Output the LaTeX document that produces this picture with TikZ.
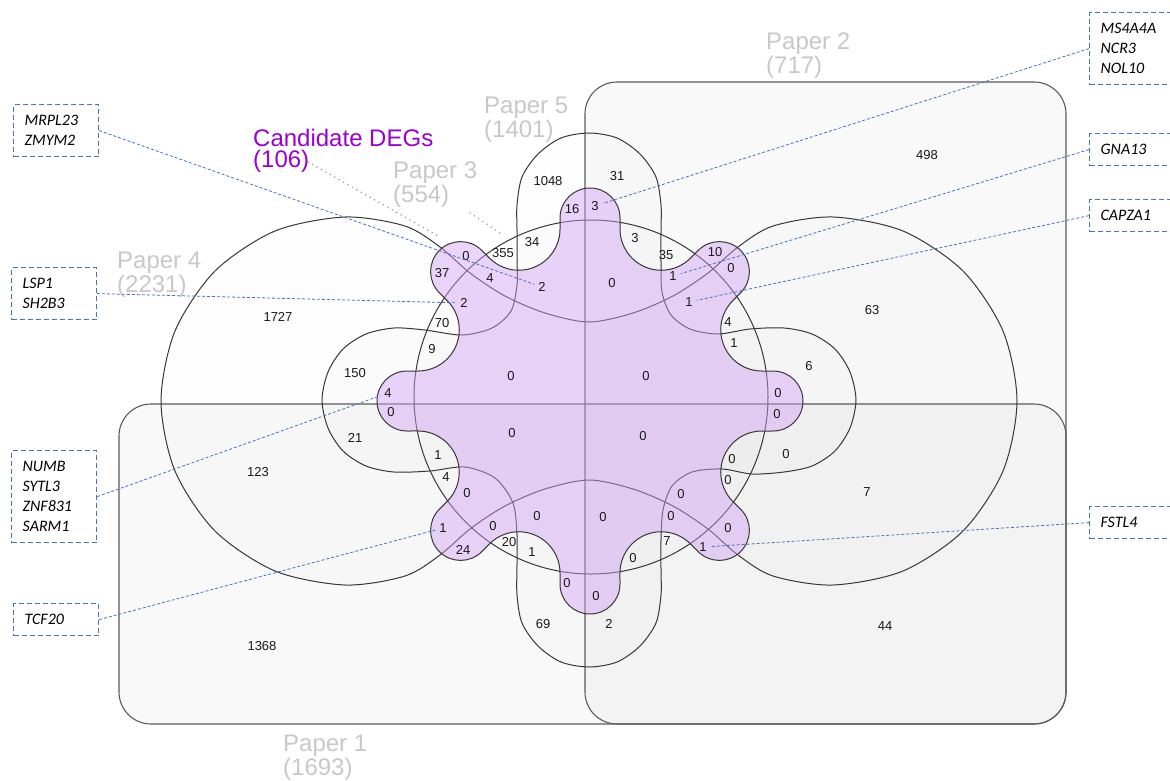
\documentclass[tikz,border=0pt]{standalone}
\usepackage{fontspec}
\setmainfont{Liberation Sans}
\newfontfamily\genefont{Carlito}
\usetikzlibrary{calc}

\definecolor{outline}{RGB}{55,55,55}
\definecolor{rectline}{RGB}{90,90,90}
\definecolor{papergray}{RGB}{200,200,200}
\definecolor{candpurple}{RGB}{155,0,211}
\definecolor{cogfill}{RGB}{210,160,242}
\definecolor{geneblue}{RGB}{68,114,196}
\definecolor{numtext}{RGB}{25,25,25}

\begin{document}
\begin{tikzpicture}[x=1pt,y=-1pt,
  rectset/.style={draw=rectline, line width=1.1pt, rounded corners=32pt},
  curveset/.style={draw=outline, line width=1pt},
  num/.style={font=\fontsize{13}{15}\selectfont, text=numtext, inner sep=4pt},
  paperlbl/.style={font=\fontsize{24}{21}\selectfont, text=papergray, inner sep=0pt,
    align=left, anchor=north west},
  candlbl/.style={font=\fontsize{24}{21}\selectfont, text=candpurple, inner sep=0pt,
    align=left, anchor=north west},
  genebox/.style={draw=geneblue, line width=1.2pt, dash pattern=on 5pt off 3pt,
    font=\genefont\itshape\fontsize{16}{20}\selectfont, text=black,
    align=left, text width=63pt, inner xsep=11pt, inner ysep=0pt, anchor=north west},
  leader/.style={draw=geneblue, line width=0.8pt, dash pattern=on 3pt off 2pt},
  pointer/.style={draw=black!42, line width=1.6pt, dash pattern=on 0.1pt off 5pt, line cap=round},
]
\useasboundingbox (0,0) rectangle (1170,780);

% ---------- set shapes: fills ----------
% Paper 1 (lower half) and Paper 2 (right half)
\fill[black, fill opacity=0.024, rounded corners=32pt] (119,404) rectangle (1066,724);
\fill[black, fill opacity=0.024, rounded corners=32pt] (585,82) rectangle (1066,724);

% Paper 3: circle
\fill[black, fill opacity=0.006] (591,397) circle[radius=177];

% Paper 4: two lobes joined by a waist
\def\paperfour{plot[smooth cycle, tension=0.5] coordinates {
  (161,401) (175,331) (215,271) (275,231) (345,217) (405,226) (440,247) (470,273)
  (505,296) (545,313) (589,322) (633,313) (673,296) (708,273) (738,247) (773,226)
  (833,217) (903,231) (963,271) (1003,331) (1017,401) (1003,471) (963,531) (903,571)
  (833,585) (773,576) (738,555) (708,529) (673,506) (633,489) (589,480) (545,489)
  (505,506) (470,529) (440,555) (405,576) (345,585) (275,571) (215,531) (175,471)}}
\fill[black, fill opacity=0.006] \paperfour;

% Paper 5: four lobes
\def\paperfive{plot[smooth cycle, tension=0.5] coordinates {
  (517,258) (517,230) (517,205) (522,177) (538,154) (561,138) (589,133) (617,138)
  (640,154) (656,177) (661,205) (661,230) (661,262) (662,292) (671,315) (690,329)
  (718,334) (750,329) (784,328) (812,334) (835,349) (850,372) (856,400) (850,428)
  (835,451) (812,466) (784,472) (752,474) (722,469) (692,472) (672,486) (663,510)
  (661,540) (661,570) (661,595) (656,623) (640,646) (617,662) (589,667) (561,662)
  (538,646) (522,623) (517,595) (517,565) (517,535) (513,503) (495,478) (465,467)
  (430,471) (394,472) (366,466) (343,451) (328,428) (322,400) (328,372) (343,349)
  (366,334) (394,328) (425,330) (462,335) (492,328) (511,311) (517,285)}}
\fill[black, fill opacity=0.006] \paperfive;

% ---------- set shapes: outlines ----------
\draw[rectset] (119,404) rectangle (1066,724);
\draw[rectset] (585,82) rectangle (1066,724);
\draw[curveset] (591,397) circle[radius=177];
\draw[curveset] \paperfour;
\draw[curveset] \paperfive;

% ---------- candidate set: eight-lobed cogwheel ----------
\coordinate (C) at (590,401);
\path[fill=cogfill, fill opacity=0.45, draw=outline, line width=1pt]
  ($(C)+(0:172)+(-90:30)$)
  \foreach \a in {0,45,...,315} {
    -- ($(C)+(\a:183)+({\a-90}:30)$)
    arc[start angle={\a-90}, end angle={\a+90}, radius=30]
    -- ($(C)+(\a:172)+({\a+90}:30)$)
    arc[start angle={\a-90}, end angle={\a-225}, radius=41.26]
  } -- cycle;

% ---------- set labels ----------
\node[paperlbl] (p1) at (283,735) {Paper 1\\(1693)};
\node[paperlbl] (p2) at (766,33) {Paper 2\\(717)};
\node[paperlbl] (p5) at (484,97) {Paper 5\\(1401)};
\node[paperlbl] (p3) at (393,162) {Paper 3\\(554)};
\node[paperlbl] (p4) at (117,252) {Paper 4\\(2231)};
\node[candlbl] (cd) at (253,129) {Candidate DEGs\\(106)};

\coordinate (cdend) at (308,162);
\coordinate (cogtip) at (440,237);
\coordinate (p3from) at (470,213);
\coordinate (p3to) at (500,233);
\draw[pointer] (cdend) -- (cogtip);
\draw[pointer] (p3from) -- (p3to);

% ---------- region counts ----------
\node[num] (r498) at (927,155) {498};
\node[num] (r1048) at (548,181) {1048};
\node[num] (r31) at (617,176) {31};
\node[num] (r1727) at (278,317) {1727};
\node[num] (r63) at (872,310) {63};
\node[num] (r150) at (355,373) {150};
\node[num] (r6) at (809,366) {6};
\node[num] (r21) at (355,438) {21};
\node[num] (r0a) at (786,454) {0};
\node[num] (r123) at (258,472) {123};
\node[num] (r7a) at (867,492) {7};
\node[num] (r1368) at (262,646) {1368};
\node[num] (r44) at (885,626) {44};
\node[num] (r69) at (543,624) {69};
\node[num] (r2a) at (609,624) {2};

\node[num] (r16) at (572,209) {16};
\node[num] (nE) at (595,206) {3};
\node[num] (r3b) at (635,238) {3};
\node[num] (r34) at (532,242) {34};
\node[num] (r355) at (503,253) {355};
\node[num] (r0b) at (466,256) {0};
\node[num] (r37) at (442,273) {37};
\node[num] (r4a) at (490,278) {4};
\node[num] (nA) at (542,287) {2};
\node[num] (r0c) at (612,283) {0};
\node[num] (r35) at (666,255) {35};
\node[num] (r10) at (715,252) {10};
\node[num] (nF) at (673,276) {1};
\node[num] (r0d) at (731,268) {0};
\node[num] (nG) at (689,302) {1};
\node[num] (nB) at (464,303) {2};
\node[num] (r70) at (442,323) {70};
\node[num] (r4b) at (728,322) {4};
\node[num] (r9) at (432,349) {9};
\node[num] (r1a) at (734,343) {1};

\node[num] (r0e) at (511,376) {0};
\node[num] (r0f) at (646,376) {0};
\node[num] (nC) at (388,393) {4};
\node[num] (r0g) at (391,412) {0};
\node[num] (r0h) at (778,393) {0};
\node[num] (r0i) at (777,414) {0};
\node[num] (r0j) at (512,433) {0};
\node[num] (r0k) at (643,436) {0};
\node[num] (r1b) at (438,455) {1};
\node[num] (r0l) at (732,459) {0};
\node[num] (r4c) at (446,477) {4};
\node[num] (r0m) at (728,480) {0};
\node[num] (r0n) at (467,493) {0};
\node[num] (r0o) at (681,494) {0};
\node[num] (r0p) at (537,516) {0};
\node[num] (r0q) at (603,517) {0};
\node[num] (r0r) at (671,516) {0};
\node[num] (r0s) at (493,526) {0};
\node[num] (nD) at (443,528) {1};
\node[num] (r0t) at (728,528) {0};
\node[num] (r20) at (509,542) {20};
\node[num] (r24) at (463,550) {24};
\node[num] (r1c) at (532,552) {1};
\node[num] (r7b) at (667,541) {7};
\node[num] (nH) at (703,547) {1};
\node[num] (r0u) at (633,558) {0};
\node[num] (r0v) at (567,583) {0};
\node[num] (r0w) at (596,596) {0};

% ---------- gene call-outs ----------
\node[genebox, minimum height=52pt] (gA) at (13,104) {MRPL23\\ZMYM2};
\node[genebox, minimum height=52pt] (gB) at (11,267) {LSP1\\SH2B3};
\node[genebox, minimum height=92pt] (gC) at (11,450) {NUMB\\SYTL3\\ZNF831\\SARM1};
\node[genebox, minimum height=32pt] (gD) at (13,603) {TCF20};
\node[genebox, minimum height=72pt] (gE) at (1089,12) {MS4A4A\\NCR3\\NOL10};
\node[genebox, minimum height=32pt] (gF) at (1089,133) {GNA13};
\node[genebox, minimum height=32pt] (gG) at (1089,199) {CAPZA1};
\node[genebox, minimum height=32pt] (gH) at (1089,506) {FSTL4};

\draw[leader] (gA.east) -- (nA);
\draw[leader] (gB.east) -- (nB);
\draw[leader] (gC.east) -- (nC);
\draw[leader] (gD.east) -- (nD);
\draw[leader] (gE.west) -- (nE);
\draw[leader] (gF.west) -- (nF);
\draw[leader] (gG.west) -- (nG);
\draw[leader] (gH.west) -- (nH);
\end{tikzpicture}
\end{document}
